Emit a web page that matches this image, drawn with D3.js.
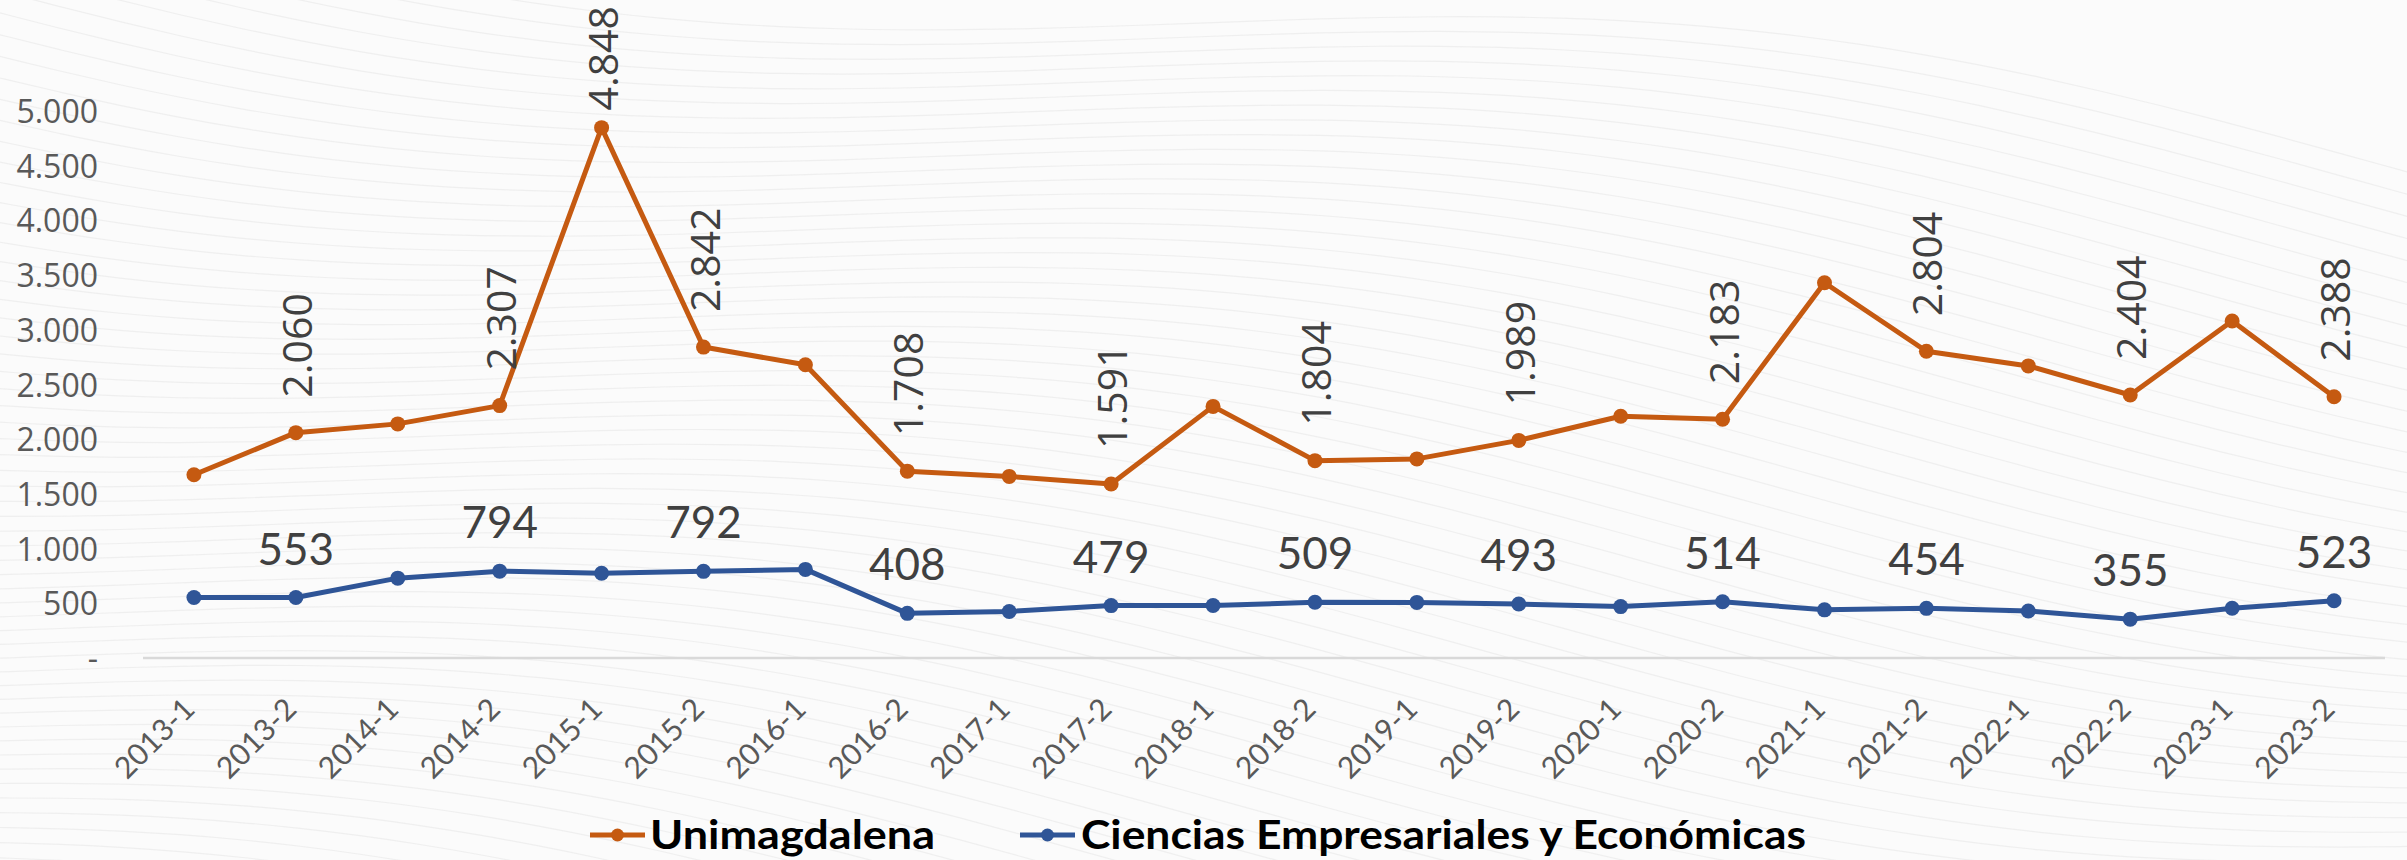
<!DOCTYPE html>
<html>
<head>
<meta charset="utf-8">
<script src="https://cdn.jsdelivr.net/npm/d3@7"></script>
<style>
  html, body { margin: 0; padding: 0; background: #fff; }
  svg { display: block; }
</style>
</head>
<body>
<div class="chart-wrapper"></div>
<script>
const periods = ['2013-1', '2013-2', '2014-1', '2014-2', '2015-1', '2015-2', '2016-1', '2016-2',
  '2017-1', '2017-2', '2018-1', '2018-2', '2019-1', '2019-2', '2020-1', '2020-2',
  '2021-1', '2021-2', '2022-1', '2022-2', '2023-1', '2023-2']

const unimagdalena = [1675, 2060, 2140, 2307, 4848, 2842, 2680, 1708, 1660, 1591, 2300, 1804,
  1820, 1989, 2210, 2183, 3430, 2804, 2670, 2404, 3080, 2388]

const ciencias = [553, 553, 730, 794, 775, 792, 810, 408, 425, 479, 480, 509,
  508, 493, 470, 514, 440, 454, 430, 355, 455, 523]

// only every other point carries a label in the original
const labeledUni = [1, 3, 4, 5, 7, 9, 11, 13, 15, 17, 19, 21]
const labeledCie = [1, 3, 5, 7, 9, 11, 13, 15, 17, 19, 21]

const yTicks = [0, 500, 1000, 1500, 2000, 2500, 3000, 3500, 4000, 4500, 5000]

const legendNames = ['Unimagdalena', 'Ciencias Empresariales y Económicas']

const width = 2407
const height = 860
const orange = '#C55A11'
const blue = '#2F5597'

const svg = d3.select('.chart-wrapper')
  .append('svg')
  .attr('width', width)
  .attr('height', height)

svg.append('rect')
  .attr('width', width)
  .attr('height', height)
  .attr('fill', '#fbfbfb')

// faint decorative waves in the background
const waves = svg.append('g').attr('class', 'waves')
const waveLine = d3.line().curve(d3.curveBasis)
for (let k = 0; k < 60; k++) {
  const pts = d3.range(0, 2500, 60).map(x => [x, -120 + k * 18 + 60 * Math.sin(x / 380 + k / 14) + x * 0.12])
  waves.append('path')
    .attr('d', waveLine(pts))
    .attr('fill', 'none')
    .attr('stroke', '#e6e6e6')
    .attr('stroke-width', 1.2)
    .attr('opacity', 0.55)
}

const x = d3.scalePoint()
  .domain(periods)
  .range([143, 2385])
  .padding(0.5)

const y = d3.scaleLinear()
  .domain([0, 5000])
  .range([658, 111])

const fmt = v => v === 0 ? '-' : d3.format(',')(v).replace(/,/g, '.')

// y axis labels (no line, no gridlines)
const yAxis = svg.append('g')
  .attr('transform', 'translate(98,0)')
  .call(d3.axisLeft(y).tickValues(yTicks).tickFormat(fmt).tickSize(0).tickPadding(0))
yAxis.select('.domain').remove()
yAxis.selectAll('text')
  .attr('font-family', '"Open Sans", sans-serif')
  .attr('font-size', 32)
  .attr('fill', '#595959')
  .attr('dy', '0.36em')

// x axis
const xAxis = svg.append('g')
  .attr('transform', `translate(0,${y(0)})`)
  .call(d3.axisBottom(x).tickSize(0).tickPadding(0))
xAxis.select('.domain')
  .attr('stroke', '#d9d9d9')
  .attr('stroke-width', 2.5)
  .attr('d', `M143,0H2385`)
xAxis.selectAll('.tick text')
  .attr('font-family', 'Lato, sans-serif')
  .attr('font-size', 30)
  .attr('fill', '#595959')
  .attr('text-anchor', 'end')
  .attr('dy', 0)
  .attr('y', 0)
  .attr('transform', 'translate(2,53) rotate(-45)')

const line = d3.line()
  .x((d, i) => x(periods[i]))
  .y(d => y(d))

const drawSeries = (values, color) => {
  svg.append('path')
    .datum(values)
    .attr('d', line)
    .attr('fill', 'none')
    .attr('stroke', color)
    .attr('stroke-width', 5)
    .attr('stroke-linejoin', 'round')

  svg.append('g')
    .selectAll('circle')
    .data(values)
    .enter().append('circle')
    .attr('cx', (d, i) => x(periods[i]))
    .attr('cy', d => y(d))
    .attr('r', 7.5)
    .attr('fill', color)
}

drawSeries(unimagdalena, orange)
drawSeries(ciencias, blue)

// rotated labels for Unimagdalena
const uniLabels = svg.append('g')
labeledUni.forEach(i => {
  const px = x(periods[i])
  const py = y(unimagdalena[i])
  const t = uniLabels.append('text')
    .attr('font-family', '"Open Sans", sans-serif')
    .attr('font-size', 41)
    .attr('fill', '#404040')
    .attr('text-anchor', 'start')
    .attr('dominant-baseline', 'central')
    .text(fmt(unimagdalena[i]))
  const len = t.node().getComputedTextLength()
  const base = Math.max(py - 35, 6 + len)
  t.attr('transform', `translate(${px},${base}) rotate(-90)`)
})

// horizontal labels for the faculty
svg.append('g')
  .selectAll('text')
  .data(labeledCie)
  .enter().append('text')
  .attr('x', i => x(periods[i]))
  .attr('y', i => y(ciencias[i]) - 33)
  .attr('text-anchor', 'middle')
  .attr('font-family', 'Lato, sans-serif')
  .attr('font-size', 44)
  .attr('fill', '#404040')
  .text(i => fmt(ciencias[i]))

// legend
const legend = svg.append('g')
const legendItems = [
  { name: legendNames[0], color: orange, x0: 590, tx: 650, tw: 285 },
  { name: legendNames[1], color: blue, x0: 1020, tx: 1081, tw: 725 }
]
legendItems.forEach(d => {
  legend.append('line')
    .attr('x1', d.x0).attr('x2', d.x0 + 55)
    .attr('y1', 835).attr('y2', 835)
    .attr('stroke', d.color)
    .attr('stroke-width', 5)
  legend.append('circle')
    .attr('cx', d.x0 + 27.5)
    .attr('cy', 835)
    .attr('r', 6.5)
    .attr('fill', d.color)
  legend.append('text')
    .attr('x', d.tx)
    .attr('y', 849)
    .attr('font-family', 'Lato, sans-serif')
    .attr('font-weight', 700)
    .attr('font-size', 40)
    .attr('fill', '#000')
    .attr('textLength', d.tw)
    .attr('lengthAdjust', 'spacingAndGlyphs')
    .text(d.name)
})
</script>
</body>
</html>
